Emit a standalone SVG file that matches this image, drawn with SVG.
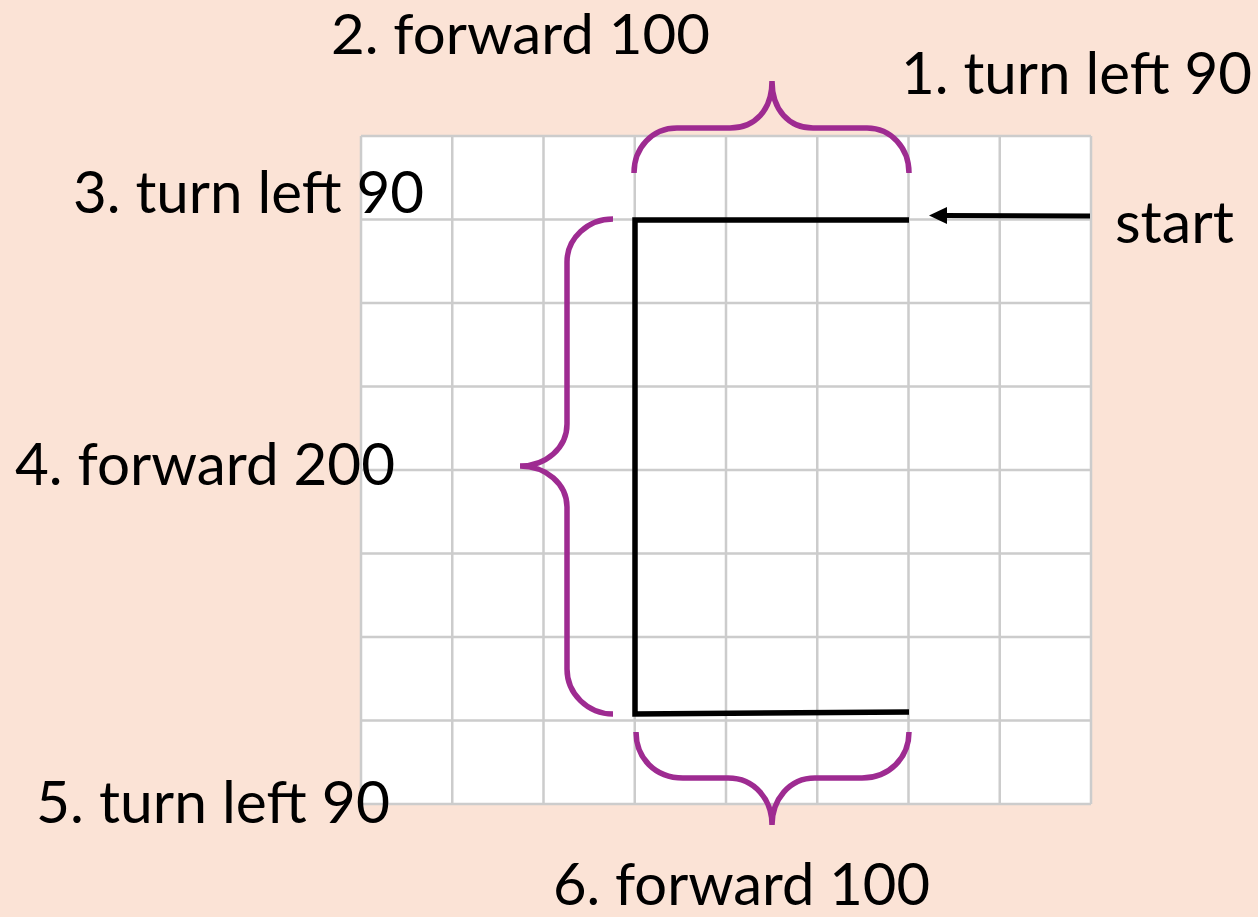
<svg xmlns="http://www.w3.org/2000/svg" width="1258" height="917" viewBox="0 0 1258 917">
<style>
.lbl{font-family:Lato,"Open Sans","Liberation Sans",sans-serif;font-size:58px;fill:#000}
.grid{stroke:#cccccc;stroke-width:2.5;fill:none}
.brace{fill:none;stroke:#9e2b91;stroke-width:5.5;stroke-linecap:butt}
.path{fill:none;stroke:#000;stroke-width:5.5}
</style>
<rect x="0" y="0" width="1258" height="917" fill="#fbe3d6"/>
<g id="grid">
<rect x="361" y="136" width="730" height="668" fill="#fff"/>
<path class="grid" d="M361,136V804M452.25,136V804M543.5,136V804M634.75,136V804M726,136V804M817.25,136V804M908.5,136V804M999.75,136V804M1091,136V804M361,136H1091M361,219.5H1091M361,303H1091M361,386.5H1091M361,470H1091M361,553.5H1091M361,637H1091M361,720.5H1091M361,804H1091"/>
</g>
<g id="connectors">
<path id="turtle-path" class="path" d="M909,220H635V714L909,712"/>
<g id="start-arrow">
<line x1="1090" y1="216" x2="944" y2="215.5" stroke="#000" stroke-width="5"/>
<polygon points="929,215.5 947,207 947,224" fill="#000"/>
</g>
</g>
<g id="brace-top"><path class="brace" d="M634,173C634,148 652,128 677,128L730,128C755,128 772,110 772,81C772,110 789,128 813,128L867,128C891,128 909,148 909,173"/></g>
<g id="brace-left"><path class="brace" d="M613,219C588,219 567,238 567,262L567,424C567,448 546,466 520,466C546,466 567,484 567,507L567,669C567,694 588,714 613,714"/></g>
<g id="brace-bottom"><path class="brace" d="M636,732C636,758 655,778 683,778L728,778C755,778 772,800 772,825C772,800 789,778 815,778L862,778C889,778 909,758 909,732"/></g>
<g id="label-1"><text class="lbl" x="901" y="94" textLength="351" lengthAdjust="spacingAndGlyphs">1. turn left 90</text></g>
<g id="label-2"><text class="lbl" x="331" y="54" font-size="56" style="font-size:56px" textLength="379" lengthAdjust="spacingAndGlyphs">2. forward 100</text></g>
<g id="label-3"><text class="lbl" x="73" y="213" textLength="351" lengthAdjust="spacingAndGlyphs">3. turn left 90</text></g>
<g id="label-4"><text class="lbl" x="15" y="485" textLength="380" lengthAdjust="spacingAndGlyphs">4. forward 200</text></g>
<g id="label-5"><text class="lbl" x="36" y="823" textLength="354" lengthAdjust="spacingAndGlyphs">5. turn left 90</text></g>
<g id="label-6"><text class="lbl" x="553" y="905" textLength="377" lengthAdjust="spacingAndGlyphs">6. forward 100</text></g>
<g id="label-start"><text class="lbl" x="1115" y="243" textLength="119" lengthAdjust="spacingAndGlyphs">start</text></g>
</svg>
